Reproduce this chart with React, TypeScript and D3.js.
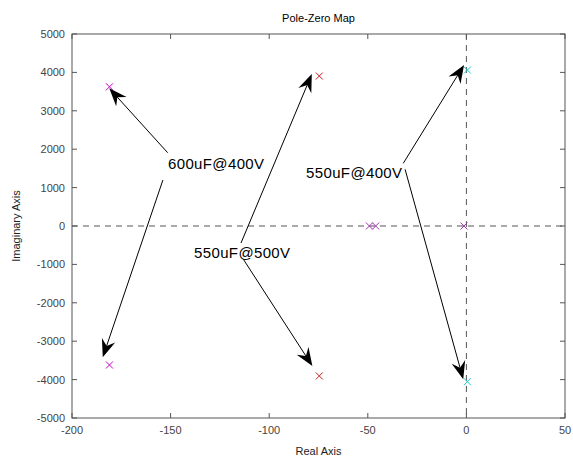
import React from "react";
import * as d3 from "d3";

const W = 573;
const H = 458;

const xDomain = [-200, 50];
const yDomain = [-5000, 5000];
const xTicks = [-200, -150, -100, -50, 0, 50];
const yTicks = [-5000, -4000, -3000, -2000, -1000, 0, 1000, 2000, 3000, 4000, 5000];

// poles per configuration (real, imag)
const polesA = [[-181, 3625], [-181, -3620]]; // 600uF@400V
const polesB = [[-74.6, 3905], [-74.6, -3905]]; // 550uF@500V
const polesC = [[0.5, 4060], [0.5, -4055]]; // 550uF@400V
const polesReal = [[-49.2, 0], [-46, 0], [-1.2, 0]];

const seriesColors = ["#cc00cc", "#cc1f1f", "#22c8c8", "#a033b0"];

const labels = ["600uF@400V", "550uF@500V", "550uF@400V"];
const labelPos = [[-151.3, 1484], [-138.1, -833], [-81.3, 1250]];
// arrows: [startX, startY, tipX, tipY] in data units
const arrows = [
  [-151.5, 1909, -181.1, 3586],
  [-153.9, 1198, -184.4, -3419],
  [-114.3, -443, -78.4, 3958],
  [-113.1, -867, -78.1, -3646],
  [-32, 1633, -1.2, 4193],
  [-31.1, 1477, -1.6, -3992],
];

const margin = { left: 72, right: 8, top: 34, bottom: 40 };
const FONT = "'Liberation Sans', Arial, Helvetica, sans-serif";

export default function App() {
  const x = d3.scaleLinear().domain(xDomain).range([margin.left, W - margin.right]);
  const y = d3.scaleLinear().domain(yDomain).range([H - margin.bottom, margin.top]);
  const x0 = x.range()[0], x1 = x.range()[1];
  const y0 = y.range()[1], y1 = y.range()[0];
  const axisColor = "#555";
  const tickLen = 5;

  const marker = (px: number, py: number, color: string, key: string) => {
    const s = 3.5;
    return (
      <path
        key={key}
        d={`M${px - s},${py - s}L${px + s},${py + s}M${px - s},${py + s}L${px + s},${py - s}`}
        stroke={color}
        strokeWidth={1}
        fill="none"
      />
    );
  };

  const arrowHead = (sx: number, sy: number, tx: number, ty: number) => {
    const dx = tx - sx, dy = ty - sy;
    const len = Math.hypot(dx, dy);
    const ux = dx / len, uy = dy / len;
    const px = -uy, py = ux;
    const L = 18, hw = 7, notch = 12;
    const bx = tx - L * ux, by = ty - L * uy;
    const nx = tx - notch * ux, ny = ty - notch * uy;
    return `M${tx},${ty}L${bx + hw * px},${by + hw * py}L${nx},${ny}L${bx - hw * px},${by - hw * py}Z`;
  };

  const groups = [polesA, polesB, polesC, polesReal];

  return (
    <svg width={W} height={H} style={{ position: "absolute", left: 0, top: 0, background: "#fff" }} fontFamily={FONT}>
      <rect x={0} y={0} width={W} height={H} fill="#fff" />
      {/* zero lines */}
      <line x1={x0} x2={x1} y1={y(0)} y2={y(0)} stroke={axisColor} strokeDasharray="6,5" strokeWidth={1} />
      <line x1={x(0)} x2={x(0)} y1={y0} y2={y1} stroke={axisColor} strokeDasharray="6,5" strokeWidth={1} />
      {/* ticks */}
      {xTicks.map((t) => (
        <g key={"xt" + t}>
          <line x1={x(t)} x2={x(t)} y1={y1} y2={y1 - tickLen} stroke={axisColor} />
          <line x1={x(t)} x2={x(t)} y1={y0} y2={y0 + tickLen} stroke={axisColor} />
          <text x={x(t)} y={y1 + 16} textAnchor="middle" fontSize={11} fill="#444">
            {t}
          </text>
        </g>
      ))}
      {yTicks.map((t) => (
        <g key={"yt" + t}>
          <line x1={x0} x2={x0 + tickLen} y1={y(t)} y2={y(t)} stroke={axisColor} />
          <line x1={x1} x2={x1 - tickLen} y1={y(t)} y2={y(t)} stroke={axisColor} />
          <text x={x0 - 7} y={y(t) + 4} textAnchor="end" fontSize={11} fill="#444">
            {t}
          </text>
        </g>
      ))}
      <rect x={x0} y={y0} width={x1 - x0} height={y1 - y0} fill="none" stroke={axisColor} strokeWidth={1} />
      {/* markers */}
      {groups.map((g, gi) => g.map((p, i) => marker(x(p[0]), y(p[1]), seriesColors[gi], `m${gi}-${i}`)))}
      {/* arrows */}
      {arrows.map((a, i) => {
        const sx = x(a[0]), sy = y(a[1]), tx = x(a[2]), ty = y(a[3]);
        const dx = tx - sx, dy = ty - sy;
        const len = Math.hypot(dx, dy);
        const ex = tx - (12 * dx) / len, ey = ty - (12 * dy) / len;
        return (
          <g key={"a" + i}>
            <line x1={sx} y1={sy} x2={ex} y2={ey} stroke="#000" strokeWidth={1} />
            <path d={arrowHead(sx, sy, tx, ty)} fill="#000" />
          </g>
        );
      })}
      {labels.map((l, i) => (
        <text
          key={"l" + i}
          x={x(labelPos[i][0])}
          y={y(labelPos[i][1])}
          fontSize={15}
          fill="#000"
          textLength={96}
          lengthAdjust="spacing"
        >
          {l}
        </text>
      ))}
      {/* titles */}
      <text x={(x0 + x1) / 2} y={22} textAnchor="middle" fontSize={11} fill="#000">
        Pole-Zero Map
      </text>
      <text x={(x0 + x1) / 2} y={455} textAnchor="middle" fontSize={11} fill="#222">
        Real Axis
      </text>
      <text
        transform={`translate(20,${(y0 + y1) / 2}) rotate(-90)`}
        textAnchor="middle"
        fontSize={11}
        fill="#222"
      >
        Imaginary Axis
      </text>
    </svg>
  );
}
